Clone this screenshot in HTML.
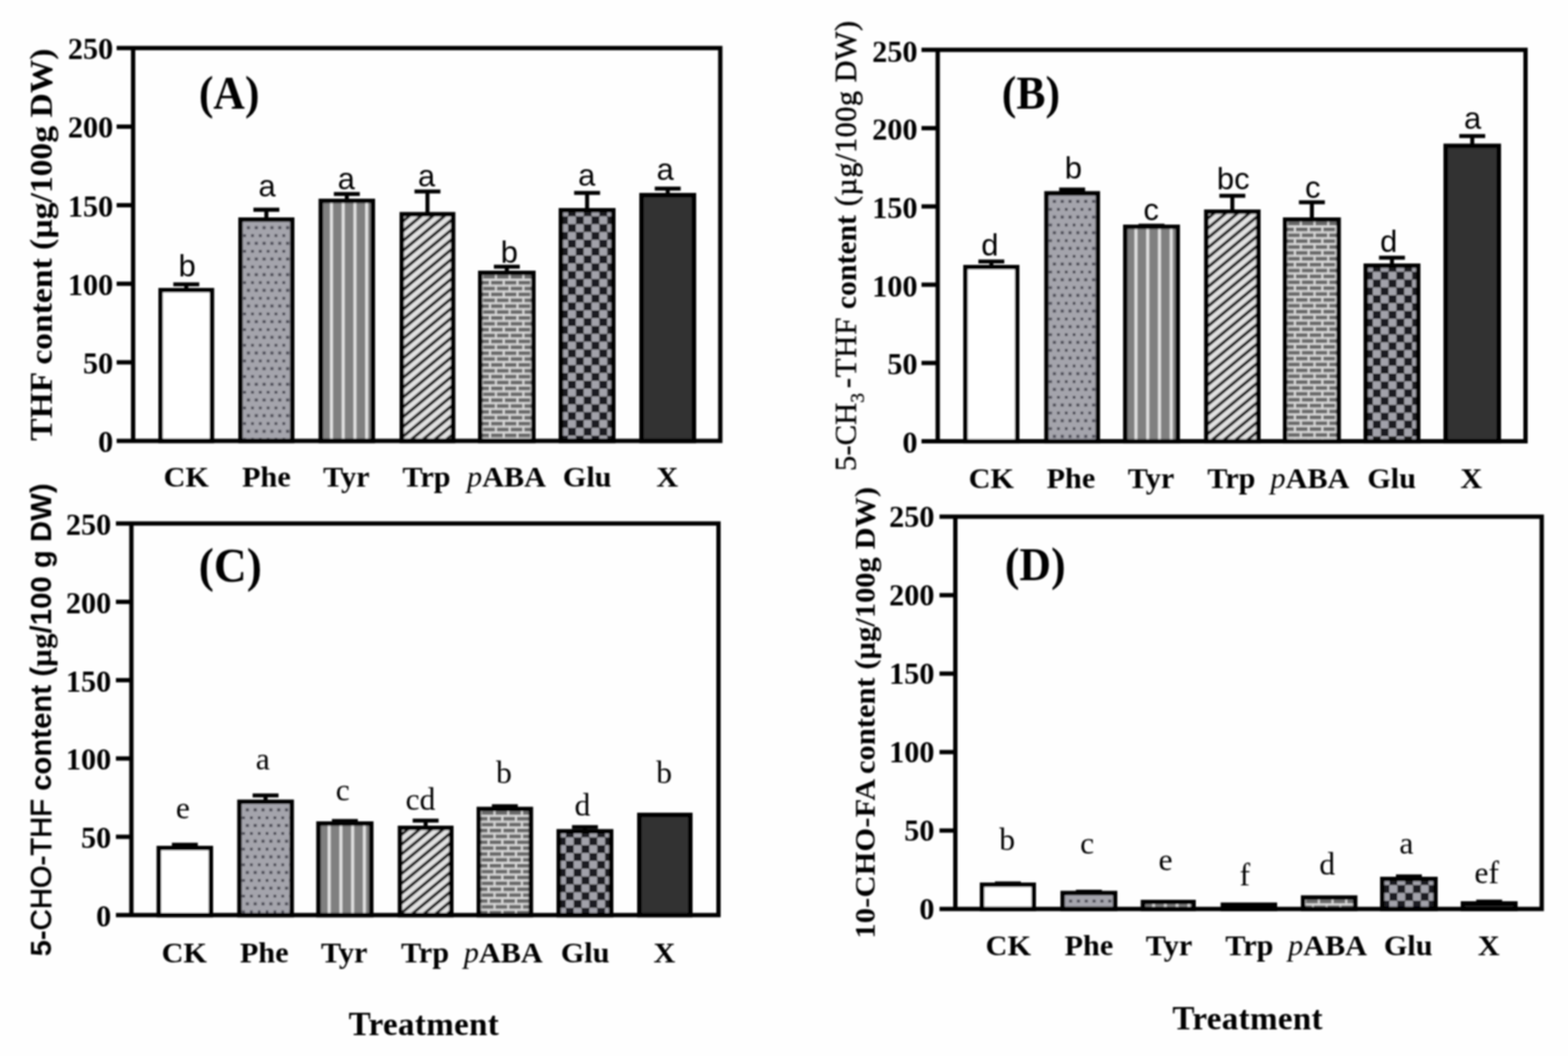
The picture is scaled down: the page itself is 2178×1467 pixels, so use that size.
<!DOCTYPE html>
<html lang="en"><head><meta charset="utf-8"><title>Folate content under different treatments</title>
<style>html,body{margin:0;padding:0;background:#fff}body{width:2178px;height:1467px;overflow:hidden}svg{display:block}text{fill:#000}.tk{font:bold 42px "Liberation Serif", serif;text-anchor:end}.xl{font:bold 42px "Liberation Serif", serif;text-anchor:middle}.pl{font-family:"Liberation Serif", serif;font-weight:bold;text-anchor:middle}.tr{font:bold 46px "Liberation Serif", serif;text-anchor:middle;letter-spacing:.4px}.ls{font:43px "Liberation Sans", sans-serif;text-anchor:middle}.lt{font:44px "Liberation Serif", serif;text-anchor:middle}</style></head><body>
<svg width="2178" height="1467" viewBox="0 0 2178 1467">
<defs>
<filter id="soft" x="0" y="0" width="100%" height="100%" filterUnits="userSpaceOnUse"><feGaussianBlur stdDeviation="0.9"/></filter>
<pattern id="pDots" x="6.86" y="1.62" width="10.88" height="21.76" patternUnits="userSpaceOnUse">
<rect width="10.88" height="21.76" fill="#a4a4ac"/>
<rect x="-0.3" y="-0.3" width="4.2" height="4.2" fill="#4c4c56"/>
<rect x="5.14" y="10.58" width="4.2" height="4.2" fill="#4c4c56"/>
</pattern>
<pattern id="pVert" x="15.6" y="0" width="16.32" height="20" patternUnits="userSpaceOnUse">
<rect width="16.32" height="20" fill="#808080"/>
<rect x="0" y="0" width="4.6" height="20" fill="#c4c4c4"/>
<rect x="1.3" y="0" width="2" height="20" fill="#f0f0f0"/>
</pattern>
<pattern id="pDiag" x="4.6" y="13" width="16.32" height="13.6" patternUnits="userSpaceOnUse">
<rect width="16.32" height="13.6" fill="#e2e2e2"/>
<path d="M-8.16 6.8L8.16 -6.8M0 13.6L16.32 0M8.16 20.4L24.48 6.8" stroke="#242424" stroke-width="4.1"/>
</pattern>
<pattern id="pBrick" x="18.06" y="13.96" width="19.04" height="16.32" patternUnits="userSpaceOnUse">
<rect width="19.04" height="16.32" fill="#dcdcdc"/>
<rect x="0" y="0" width="16.32" height="5.44" fill="#6a6a6a"/>
<rect x="8.16" y="8.16" width="16.32" height="5.44" fill="#6a6a6a"/>
<rect x="-10.88" y="8.16" width="16.32" height="5.44" fill="#6a6a6a"/>
</pattern>
<pattern id="pCheck" x="2.12" y="0.66" width="21.76" height="21.76" patternUnits="userSpaceOnUse">
<rect width="21.76" height="21.76" fill="#1e1e22"/>
<rect x="0" y="0" width="10.88" height="10.88" fill="#a2a2aa"/>
<rect x="10.88" y="10.88" width="10.88" height="10.88" fill="#a2a2aa"/>
</pattern>
</defs>

<rect width="2178" height="1467" fill="#fefefe"/>
<g filter="url(#soft)">
<g id="panelA">
<g transform="translate(220 400)"><rect x="3.1" y="3.1" width="71.3" height="209.4" fill="#ffffff" stroke="#000" stroke-width="6.2"/></g>
<path d="M240.75 395H276.75M258.75 395V401" fill="none" stroke="#000" stroke-width="5.6"/>
<g transform="translate(331 302)"><rect x="3.1" y="3.1" width="71.8" height="307.4" fill="url(#pDots)" stroke="#000" stroke-width="6.2"/></g>
<path d="M352 291.4H388M370 291.4V303" fill="none" stroke="#000" stroke-width="5.6"/>
<g transform="translate(442.5 276)"><rect x="3.1" y="3.1" width="72.3" height="333.4" fill="url(#pVert)" stroke="#000" stroke-width="6.2"/></g>
<path d="M463.75 269.5H499.75M481.75 269.5V277" fill="none" stroke="#000" stroke-width="5.6"/>
<g transform="translate(555 294.5)"><rect x="3.1" y="3.1" width="71.3" height="314.9" fill="url(#pDiag)" stroke="#000" stroke-width="6.2"/></g>
<path d="M575.75 266H611.75M593.75 266V295.5" fill="none" stroke="#000" stroke-width="5.6"/>
<g transform="translate(664 376)"><rect x="3.1" y="3.1" width="73.8" height="233.4" fill="url(#pBrick)" stroke="#000" stroke-width="6.2"/></g>
<path d="M686 370.5H722M704 370.5V377" fill="none" stroke="#000" stroke-width="5.6"/>
<g transform="translate(776 289)"><rect x="3.1" y="3.1" width="72.8" height="320.4" fill="url(#pCheck)" stroke="#000" stroke-width="6.2"/></g>
<path d="M797.5 268H833.5M815.5 268V290" fill="none" stroke="#000" stroke-width="5.6"/>
<g transform="translate(888 268)"><rect x="3.1" y="3.1" width="72.8" height="341.4" fill="#303030" stroke="#000" stroke-width="6.2"/></g>
<path d="M909.5 262H945.5M927.5 262V269" fill="none" stroke="#000" stroke-width="5.6"/>
<path d="M162 66.8H1000.5V612.5H162M184.9 66.8V612.5" fill="none" stroke="#000" stroke-width="6" stroke-linejoin="miter"/>
<path d="M162 175.94H184.9" stroke="#000" stroke-width="6"/>
<path d="M162 285.08H184.9" stroke="#000" stroke-width="6"/>
<path d="M162 394.22H184.9" stroke="#000" stroke-width="6"/>
<path d="M162 503.36H184.9" stroke="#000" stroke-width="6"/>
<text class="tk" x="157.3" y="82.3">250</text>
<text class="tk" x="157.3" y="191.44">200</text>
<text class="tk" x="157.3" y="300.58">150</text>
<text class="tk" x="157.3" y="409.72">100</text>
<text class="tk" x="157.3" y="518.86">50</text>
<text class="tk" x="157.3" y="628">0</text>
<text class="xl" transform="translate(258.75 676) scale(1 .955)">CK</text>
<text class="xl" transform="translate(370 676) scale(1 .955)">Phe</text>
<text class="xl" transform="translate(481 676) scale(1 .955)">Tyr</text>
<text class="xl" transform="translate(592.5 676) scale(1 .955)">Trp</text>
<text class="xl" transform="translate(703.5 676) scale(1 .955)"><tspan font-style="italic" font-weight="normal">p</tspan>ABA</text>
<text class="xl" transform="translate(815.6 676) scale(1 .955)">Glu</text>
<text class="xl" transform="translate(927 676) scale(1 .955)">X</text>
<text class="ls" x="260" y="383.75">b</text>
<text class="ls" x="371" y="272.5">a</text>
<text class="ls" x="481" y="262.5">a</text>
<text class="ls" x="592.5" y="258.75">a</text>
<text class="ls" x="707.5" y="364.5">b</text>
<text class="ls" x="815" y="257.5">a</text>
<text class="ls" x="924" y="250">a</text>
<text class="pl" transform="translate(318.3 151.3) scale(0.92 1)" font-size="66">(A)</text>
<text transform="translate(72 612.5) rotate(-90) scale(1 0.95)" font-weight="bold" font-size="46.7" font-family="'Liberation Serif', serif" text-anchor="start">THF content (µg/100g DW)</text>
</g>
<g id="panelB">
<g transform="translate(1338 368)"><rect x="3.1" y="3.1" width="71.8" height="241.9" fill="#ffffff" stroke="#000" stroke-width="6.2"/></g>
<path d="M1359 363.2H1395M1377 363.2V369" fill="none" stroke="#000" stroke-width="5.6"/>
<g transform="translate(1450.5 265.5)"><rect x="3.1" y="3.1" width="71.3" height="344.4" fill="url(#pDots)" stroke="#000" stroke-width="6.2"/></g>
<path d="M1471.25 263.2H1507.25M1489.25 263.2V266.5" fill="none" stroke="#000" stroke-width="5.6"/>
<g transform="translate(1560 312)"><rect x="3.1" y="3.1" width="72.8" height="297.9" fill="url(#pVert)" stroke="#000" stroke-width="6.2"/></g>
<path d="M1581.5 313.5H1617.5M1599.5 313.5V313" fill="none" stroke="#000" stroke-width="5.6"/>
<g transform="translate(1672.5 291)"><rect x="3.1" y="3.1" width="72.3" height="318.9" fill="url(#pDiag)" stroke="#000" stroke-width="6.2"/></g>
<path d="M1693.75 272H1729.75M1711.75 272V292" fill="none" stroke="#000" stroke-width="5.6"/>
<g transform="translate(1782 302)"><rect x="3.1" y="3.1" width="74.3" height="307.9" fill="url(#pBrick)" stroke="#000" stroke-width="6.2"/></g>
<path d="M1804.25 281H1840.25M1822.25 281V303" fill="none" stroke="#000" stroke-width="5.6"/>
<g transform="translate(1894 366)"><rect x="3.1" y="3.1" width="72.8" height="243.9" fill="url(#pCheck)" stroke="#000" stroke-width="6.2"/></g>
<path d="M1915.5 358H1951.5M1933.5 358V367" fill="none" stroke="#000" stroke-width="5.6"/>
<g transform="translate(2005 199.5)"><rect x="3.1" y="3.1" width="73.8" height="410.4" fill="#303030" stroke="#000" stroke-width="6.2"/></g>
<path d="M2027 189H2063M2045 189V200.5" fill="none" stroke="#000" stroke-width="5.6"/>
<path d="M1280 69.3H2119V613H1280M1302.5 69.3V613" fill="none" stroke="#000" stroke-width="6" stroke-linejoin="miter"/>
<path d="M1280 178.04H1302.5" stroke="#000" stroke-width="6"/>
<path d="M1280 286.78H1302.5" stroke="#000" stroke-width="6"/>
<path d="M1280 395.52H1302.5" stroke="#000" stroke-width="6"/>
<path d="M1280 504.26H1302.5" stroke="#000" stroke-width="6"/>
<text class="tk" x="1274.5" y="85.5">250</text>
<text class="tk" x="1274.5" y="194.24">200</text>
<text class="tk" x="1274.5" y="302.98">150</text>
<text class="tk" x="1274.5" y="411.72">100</text>
<text class="tk" x="1274.5" y="520.46">50</text>
<text class="tk" x="1274.5" y="629.2">0</text>
<text class="xl" transform="translate(1377 678) scale(1 .955)">CK</text>
<text class="xl" transform="translate(1487.5 678) scale(1 .955)">Phe</text>
<text class="xl" transform="translate(1598.75 678) scale(1 .955)">Tyr</text>
<text class="xl" transform="translate(1710.5 678) scale(1 .955)">Trp</text>
<text class="xl" transform="translate(1819.6 678) scale(1 .955)"><tspan font-style="italic" font-weight="normal">p</tspan>ABA</text>
<text class="xl" transform="translate(1933 678) scale(1 .955)">Glu</text>
<text class="xl" transform="translate(2043.6 678) scale(1 .955)">X</text>
<text class="ls" x="1375" y="355">d</text>
<text class="ls" x="1491" y="247.5">b</text>
<text class="ls" x="1599" y="306">c</text>
<text class="ls" x="1713" y="262.5">bc</text>
<text class="ls" x="1823.5" y="275">c</text>
<text class="ls" x="1929" y="350">d</text>
<text class="ls" x="2045.5" y="178.75">a</text>
<text class="pl" transform="translate(1432 151) scale(0.92 1)" font-size="66">(B)</text>
<g font-weight="normal" font-size="42.8" font-family="'Liberation Serif', serif">
<text transform="translate(1189 654.5) rotate(-90) scale(1 1)" stroke="#000" stroke-width="0.4">5-CH<tspan font-size="27" dy="11">3</tspan></text>
<text transform="translate(1189 539.5) rotate(-90) scale(1 1)" letter-spacing="1.1" stroke="#000" stroke-width="0.4">-THF</text>
<text transform="translate(1189 429.5) rotate(-90) scale(1 1)" font-weight="bold" font-size="41.3">content</text>
<text transform="translate(1189 286.5) rotate(-90) scale(1 1)" font-size="41.7" letter-spacing="0.9" stroke="#000" stroke-width="0.7">(µg/100g DW)</text>
</g>
</g>
<g id="panelC">
<g transform="translate(217.5 1175)"><rect x="3.1" y="3.1" width="72.3" height="93.2" fill="#ffffff" stroke="#000" stroke-width="6.2"/></g>
<path d="M238.75 1173.5H274.75M256.75 1173.5V1176" fill="none" stroke="#000" stroke-width="5.6"/>
<g transform="translate(329.5 1110.75)"><rect x="3.1" y="3.1" width="72.6" height="157.45" fill="url(#pDots)" stroke="#000" stroke-width="6.2"/></g>
<path d="M350.9 1105H386.9M368.9 1105V1111.75" fill="none" stroke="#000" stroke-width="5.6"/>
<g transform="translate(439.3 1141)"><rect x="3.1" y="3.1" width="73.3" height="127.2" fill="url(#pVert)" stroke="#000" stroke-width="6.2"/></g>
<path d="M461.05 1140.5H497.05M479.05 1140.5V1142" fill="none" stroke="#000" stroke-width="5.6"/>
<g transform="translate(552.5 1147)"><rect x="3.1" y="3.1" width="71.3" height="121.2" fill="url(#pDiag)" stroke="#000" stroke-width="6.2"/></g>
<path d="M573.25 1140H609.25M591.25 1140V1148" fill="none" stroke="#000" stroke-width="5.6"/>
<g transform="translate(662 1120.75)"><rect x="3.1" y="3.1" width="72.3" height="147.45" fill="url(#pBrick)" stroke="#000" stroke-width="6.2"/></g>
<path d="M683.25 1120H719.25M701.25 1120V1121.75" fill="none" stroke="#000" stroke-width="5.6"/>
<g transform="translate(773 1151.75)"><rect x="3.1" y="3.1" width="72.8" height="116.45" fill="url(#pCheck)" stroke="#000" stroke-width="6.2"/></g>
<path d="M794.5 1149H830.5M812.5 1149V1152.75" fill="none" stroke="#000" stroke-width="5.6"/>
<g transform="translate(885 1129)"><rect x="3.1" y="3.1" width="70.8" height="139.2" fill="#303030" stroke="#000" stroke-width="6.2"/></g>
<path d="M161 727.3H998V1271.3H161M182.5 727.3V1271.3" fill="none" stroke="#000" stroke-width="6" stroke-linejoin="miter"/>
<path d="M161 836.1H182.5" stroke="#000" stroke-width="6"/>
<path d="M161 944.9H182.5" stroke="#000" stroke-width="6"/>
<path d="M161 1053.7H182.5" stroke="#000" stroke-width="6"/>
<path d="M161 1162.5H182.5" stroke="#000" stroke-width="6"/>
<text class="tk" x="154.5" y="742.9">250</text>
<text class="tk" x="154.5" y="851.7">200</text>
<text class="tk" x="154.5" y="960.5">150</text>
<text class="tk" x="154.5" y="1069.3">100</text>
<text class="tk" x="154.5" y="1178.1">50</text>
<text class="tk" x="154.5" y="1286.9">0</text>
<text class="xl" transform="translate(256 1337) scale(1 .955)">CK</text>
<text class="xl" transform="translate(367 1337) scale(1 .955)">Phe</text>
<text class="xl" transform="translate(478 1337) scale(1 .955)">Tyr</text>
<text class="xl" transform="translate(590.4 1337) scale(1 .955)">Trp</text>
<text class="xl" transform="translate(699 1337) scale(1 .955)"><tspan font-style="italic" font-weight="normal">p</tspan>ABA</text>
<text class="xl" transform="translate(812.8 1337) scale(1 .955)">Glu</text>
<text class="xl" transform="translate(923 1337) scale(1 .955)">X</text>
<text class="lt" x="254" y="1137">e</text>
<text class="lt" x="365" y="1068.75">a</text>
<text class="lt" x="476" y="1111.75">c</text>
<text class="lt" x="584" y="1125">cd</text>
<text class="lt" x="700" y="1087.5">b</text>
<text class="lt" x="809" y="1132.5">d</text>
<text class="lt" x="922.5" y="1087.5">b</text>
<text class="pl" transform="translate(319.8 807.8) scale(0.93 1)" font-size="68">(C)</text>
<g font-weight="bold" font-size="40.6" font-family="'Liberation Sans', sans-serif">
<text transform="translate(70.5 1328.5) rotate(-90) scale(1 1)">5-<tspan font-weight='normal' stroke='#000' stroke-width='0.9'>CHO-THF</tspan></text>
<text transform="translate(70.5 1098.6) rotate(-90) scale(1 1)" letter-spacing="0.1">content (<tspan font-family='Liberation Serif,serif' font-size='43'>µg</tspan>/100 g DW)</text>
</g>
<text class="tr" x="588.75" y="1437.5">Treatment</text>
</g>
<g id="panelD">
<g transform="translate(1361 1226)"><rect x="3.1" y="3.1" width="71.8" height="33.7" fill="#ffffff" stroke="#000" stroke-width="6.2"/></g>
<path d="M1382 1227.4H1418M1400 1227.4V1227" fill="none" stroke="#000" stroke-width="5.6"/>
<g transform="translate(1473 1237.5)"><rect x="3.1" y="3.1" width="72.8" height="22.2" fill="url(#pDots)" stroke="#000" stroke-width="6.2"/></g>
<path d="M1494.5 1238.8H1530.5M1512.5 1238.8V1238.5" fill="none" stroke="#000" stroke-width="5.6"/>
<g transform="translate(1584.5 1250)"><rect x="3.1" y="3.1" width="70.3" height="9.7" fill="url(#pVert)" stroke="#000" stroke-width="6.2"/></g>
<g transform="translate(1695.5 1253.75)"><rect x="3.1" y="3.1" width="72.3" height="5.95" fill="url(#pDiag)" stroke="#000" stroke-width="6.2"/></g>
<g transform="translate(1807 1243.75)"><rect x="3.1" y="3.1" width="72.3" height="15.95" fill="url(#pBrick)" stroke="#000" stroke-width="6.2"/></g>
<g transform="translate(1917 1218)"><rect x="3.1" y="3.1" width="73.8" height="41.7" fill="url(#pCheck)" stroke="#000" stroke-width="6.2"/></g>
<path d="M1939 1217.5H1975M1957 1217.5V1219" fill="none" stroke="#000" stroke-width="5.6"/>
<g transform="translate(2029 1252)"><rect x="3.1" y="3.1" width="72.8" height="7.7" fill="#303030" stroke="#000" stroke-width="6.2"/></g>
<path d="M2050.5 1252.5H2086.5M2068.5 1252.5V1253" fill="none" stroke="#000" stroke-width="5.6"/>
<path d="M1305 717.8H2141.5V1262.8H1305M1327 717.8V1262.8" fill="none" stroke="#000" stroke-width="6" stroke-linejoin="miter"/>
<path d="M1305 826.8H1327" stroke="#000" stroke-width="6"/>
<path d="M1305 935.8H1327" stroke="#000" stroke-width="6"/>
<path d="M1305 1044.8H1327" stroke="#000" stroke-width="6"/>
<path d="M1305 1153.8H1327" stroke="#000" stroke-width="6"/>
<text class="tk" x="1298" y="732.3">250</text>
<text class="tk" x="1298" y="841.3">200</text>
<text class="tk" x="1298" y="950.3">150</text>
<text class="tk" x="1298" y="1059.3">100</text>
<text class="tk" x="1298" y="1168.3">50</text>
<text class="tk" x="1298" y="1277.3">0</text>
<text class="xl" transform="translate(1400.6 1327) scale(1 .955)">CK</text>
<text class="xl" transform="translate(1512.5 1327) scale(1 .955)">Phe</text>
<text class="xl" transform="translate(1623.75 1327) scale(1 .955)">Tyr</text>
<text class="xl" transform="translate(1735.5 1327) scale(1 .955)">Trp</text>
<text class="xl" transform="translate(1844 1327) scale(1 .955)"><tspan font-style="italic" font-weight="normal">p</tspan>ABA</text>
<text class="xl" transform="translate(1956 1327) scale(1 .955)">Glu</text>
<text class="xl" transform="translate(2068 1327) scale(1 .955)">X</text>
<text class="lt" x="1399" y="1181">b</text>
<text class="lt" x="1510" y="1186">c</text>
<text class="lt" x="1619" y="1209">e</text>
<text class="lt" x="1729" y="1230">f</text>
<text class="lt" x="1843.5" y="1214.5">d</text>
<text class="lt" x="1953.5" y="1186">a</text>
<text class="lt" x="2065" y="1227">ef</text>
<text class="pl" transform="translate(1438 806) scale(0.92 1)" font-size="66">(D)</text>
<g font-weight="bold" font-size="42.2" font-family="'Liberation Serif', serif">
<text transform="translate(1215 1304) rotate(-90) scale(1 0.96)" letter-spacing="0.3">10-CHO-FA</text>
<text transform="translate(1215 1075.3) rotate(-90) scale(1 0.96)" letter-spacing="0.1">content (µg/100g DW)</text>
</g>
<text class="tr" x="1733" y="1430">Treatment</text>
</g>
</g>
</svg></body></html>
